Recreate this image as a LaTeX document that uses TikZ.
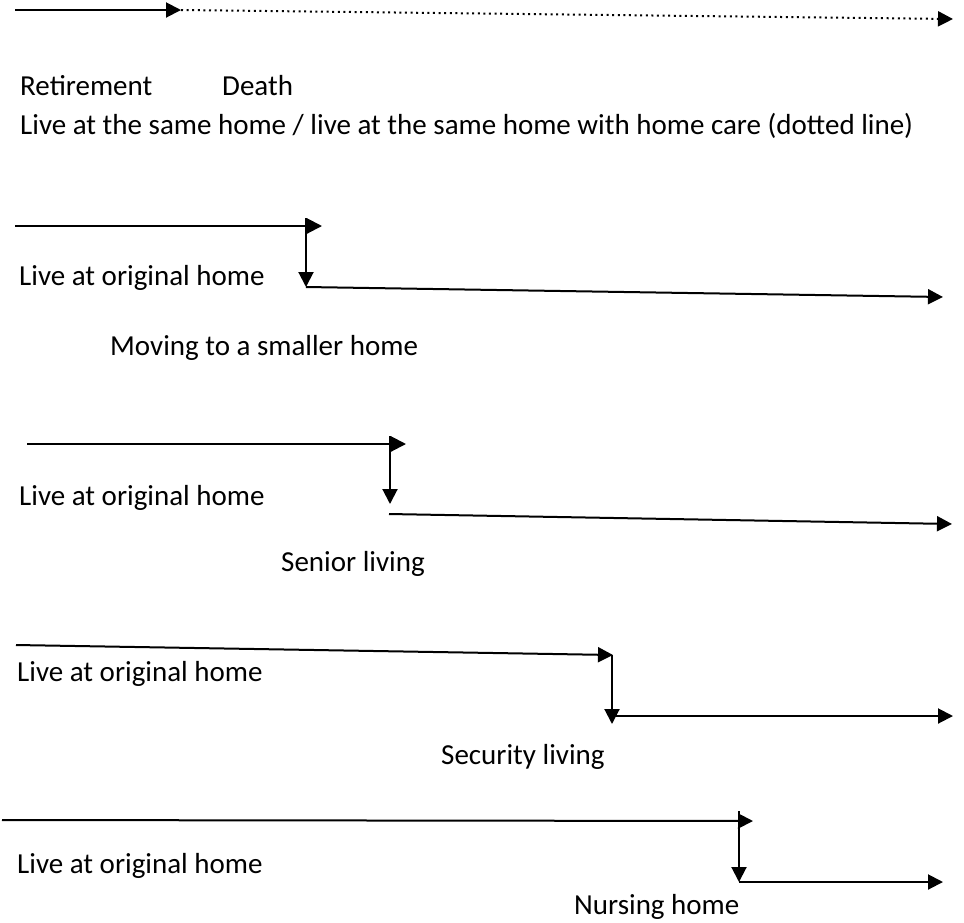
\documentclass[tikz,border=0pt]{standalone}
\usepackage{fontspec}
\setmainfont{Carlito}
\usetikzlibrary{arrows.meta}
\begin{document}
\begin{tikzpicture}[x=1pt,y=-1pt,
  conn/.style={line width=2pt, -{Triangle[length=15pt,width=15pt]}},
  dotconn/.style={conn, dash pattern=on 2pt off 3.6pt},
  lbl/.style={anchor=base west, inner sep=0pt, font=\fontsize{29}{35}\selectfont}]
\useasboundingbox (0,0) rectangle (964,922);

% Row 1
\coordinate (r0) at (15,10);
\coordinate (r1) at (181,10);
\coordinate (r2) at (953,19);
\draw[conn] (r0) -- (r1);
\draw[dotconn] (r1) -- (r2);
\node[lbl] (tret) at (20,95) {Retirement};
\node[lbl] (tdeath) at (222,95) {Death};
\node[lbl] (tsame) at (20,134) {Live at the same home / live at the same home with home care (dotted line)};

% Row 2
\coordinate (a0) at (15,226);
\coordinate (a1) at (322,226);
\coordinate (a2) at (306,218);
\coordinate (a3) at (306,287);
\coordinate (a4) at (943,297);
\draw[conn] (a0) -- (a1);
\draw[conn] (a2) -- (a3);
\draw[conn] (a3) -- (a4);
\node[lbl] (torig2) at (19,285) {Live at original home};
\node[lbl] (tmove) at (110,355) {Moving to a smaller home};

% Row 3
\coordinate (b0) at (27,444);
\coordinate (b1) at (406,444);
\coordinate (b2) at (390,436);
\coordinate (b3) at (390,504);
\coordinate (b4) at (389,514);
\coordinate (b5) at (952,524);
\draw[conn] (b0) -- (b1);
\draw[conn] (b2) -- (b3);
\draw[conn] (b4) -- (b5);
\node[lbl] (torig3) at (19,505) {Live at original home};
\node[lbl] (tsenior) at (281,571) {Senior living};

% Row 4
\coordinate (c0) at (16,645);
\coordinate (c1) at (613,655);
\coordinate (c2) at (612,655);
\coordinate (c3) at (612,724);
\coordinate (c4) at (612,716);
\coordinate (c5) at (953,716);
\draw[conn] (c0) -- (c1);
\draw[conn] (c2) -- (c3);
\draw[conn] (c4) -- (c5);
\node[lbl] (torig4) at (17,681) {Live at original home};
\node[lbl] (tsecurity) at (441,764) {Security living};

% Row 5
\coordinate (d0) at (2,820);
\coordinate (d1) at (753,821);
\coordinate (d2) at (739,811);
\coordinate (d3) at (739,882);
\coordinate (d4) at (943,882);
\draw[conn] (d0) -- (d1);
\draw[conn] (d2) -- (d3);
\draw[conn] (d3) -- (d4);
\node[lbl] (torig5) at (17,873) {Live at original home};
\node[lbl] (tnursing) at (574,914) {Nursing home};
\end{tikzpicture}
\end{document}
